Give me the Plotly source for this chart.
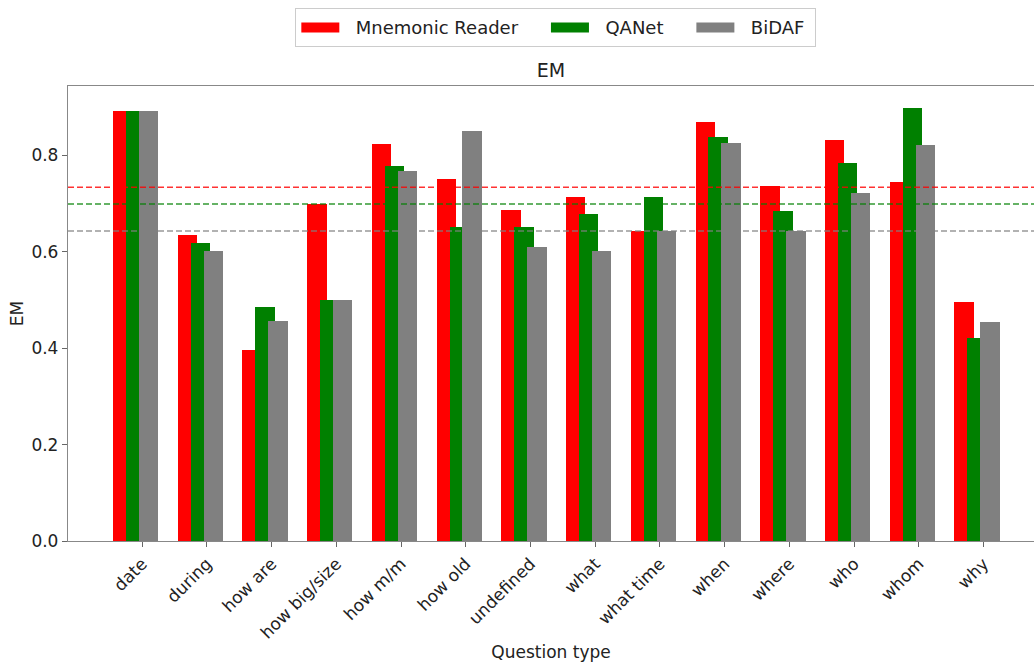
import plotly.graph_objects as go

categories = ["date", "during", "how are", "how big/size", "how m/m", "how old",
              "undefined", "what", "what time", "when", "where", "who", "whom", "why"]
mnemonic = [0.892, 0.635, 0.396, 0.699, 0.823, 0.751, 0.686, 0.713, 0.643, 0.870, 0.736, 0.831, 0.745, 0.495]
qanet    = [0.892, 0.618, 0.486, 0.500, 0.777, 0.651, 0.651, 0.678, 0.714, 0.839, 0.685, 0.785, 0.899, 0.422]
bidaf    = [0.892, 0.602, 0.456, 0.500, 0.768, 0.850, 0.611, 0.602, 0.643, 0.825, 0.643, 0.721, 0.822, 0.454]
series_names = ["Mnemonic Reader", "QANet", "BiDAF"]
series_colors = ["red", "green", "gray"]
overall_em = [0.734, 0.699, 0.643]
yticks = [0.0, 0.2, 0.4, 0.6, 0.8]

x = list(range(len(categories)))
offsets = [-0.45, -0.25, -0.05]

fig = go.Figure()
for name, vals, col, off in zip(series_names, [mnemonic, qanet, bidaf], series_colors, offsets):
    fig.add_trace(go.Bar(x=x, y=vals, name=name, marker=dict(color=col, line=dict(width=0)),
                         width=0.3, offset=off, showlegend=False))
# legend entries drawn as thick line patches (matplotlib-like rectangles)
nb = "\u00a0"
for i, (name, col) in enumerate(zip(series_names, series_colors)):
    pad = nb * 4 if i < len(series_names) - 1 else nb
    fig.add_trace(go.Scatter(x=[None], y=[None], mode="lines", name=nb * 2 + name + pad,
                             line=dict(color=col, width=12)))

for val, col in zip(overall_em, series_colors):
    fig.add_shape(type="line", xref="paper", x0=0, x1=1, yref="y", y0=val, y1=val,
                  line=dict(color=col, width=1.5, dash="6px,3px"), opacity=0.8, layer="above")

font = "DejaVu Sans"
fig.update_layout(
    width=1034, height=662,
    margin=dict(l=68, r=0, t=86, b=121),
    barmode="overlay",
    plot_bgcolor="white", paper_bgcolor="white",
    font=dict(family=font, size=17, color="#222"),
    title=dict(text="EM", x=0.5, xref="paper", xanchor="center",
               y=1 - 70 / 662, yref="container", yanchor="middle",
               font=dict(size=19, family=font, color="#222")),
    legend=dict(orientation="h", x=0.505, xanchor="center", y=1.171, yanchor="top",
                bordercolor="#cccccc", borderwidth=1, font=dict(size=18, family=font),
                itemwidth=38, tracegroupgap=0),
    xaxis=dict(range=[-1.145, 13.78], tickmode="array", tickvals=x, ticktext=categories,
               tickangle=-45, ticks="outside", ticklen=5, tickcolor="#666",
               showline=True, linecolor="#888", linewidth=1.3, mirror=True,
               showgrid=False, zeroline=False, automargin=False,
               title=dict(text="Question type", font=dict(size=17), standoff=20)),
    yaxis=dict(range=[0, 0.944], tickmode="array", tickvals=yticks,
               ticktext=[f"{v:.1f}" for v in yticks],
               ticks="outside", ticklen=5, tickcolor="#666",
               showline=True, linecolor="#888", linewidth=1.3, mirror=False,
               showgrid=False, zeroline=False, automargin=False,
               title=dict(text="EM", font=dict(size=17), standoff=3)),
    bargap=0,
)

fig.write_html("out.html", config={"displayModeBar": False},
               post_script="document.body.style.margin='0px';")
